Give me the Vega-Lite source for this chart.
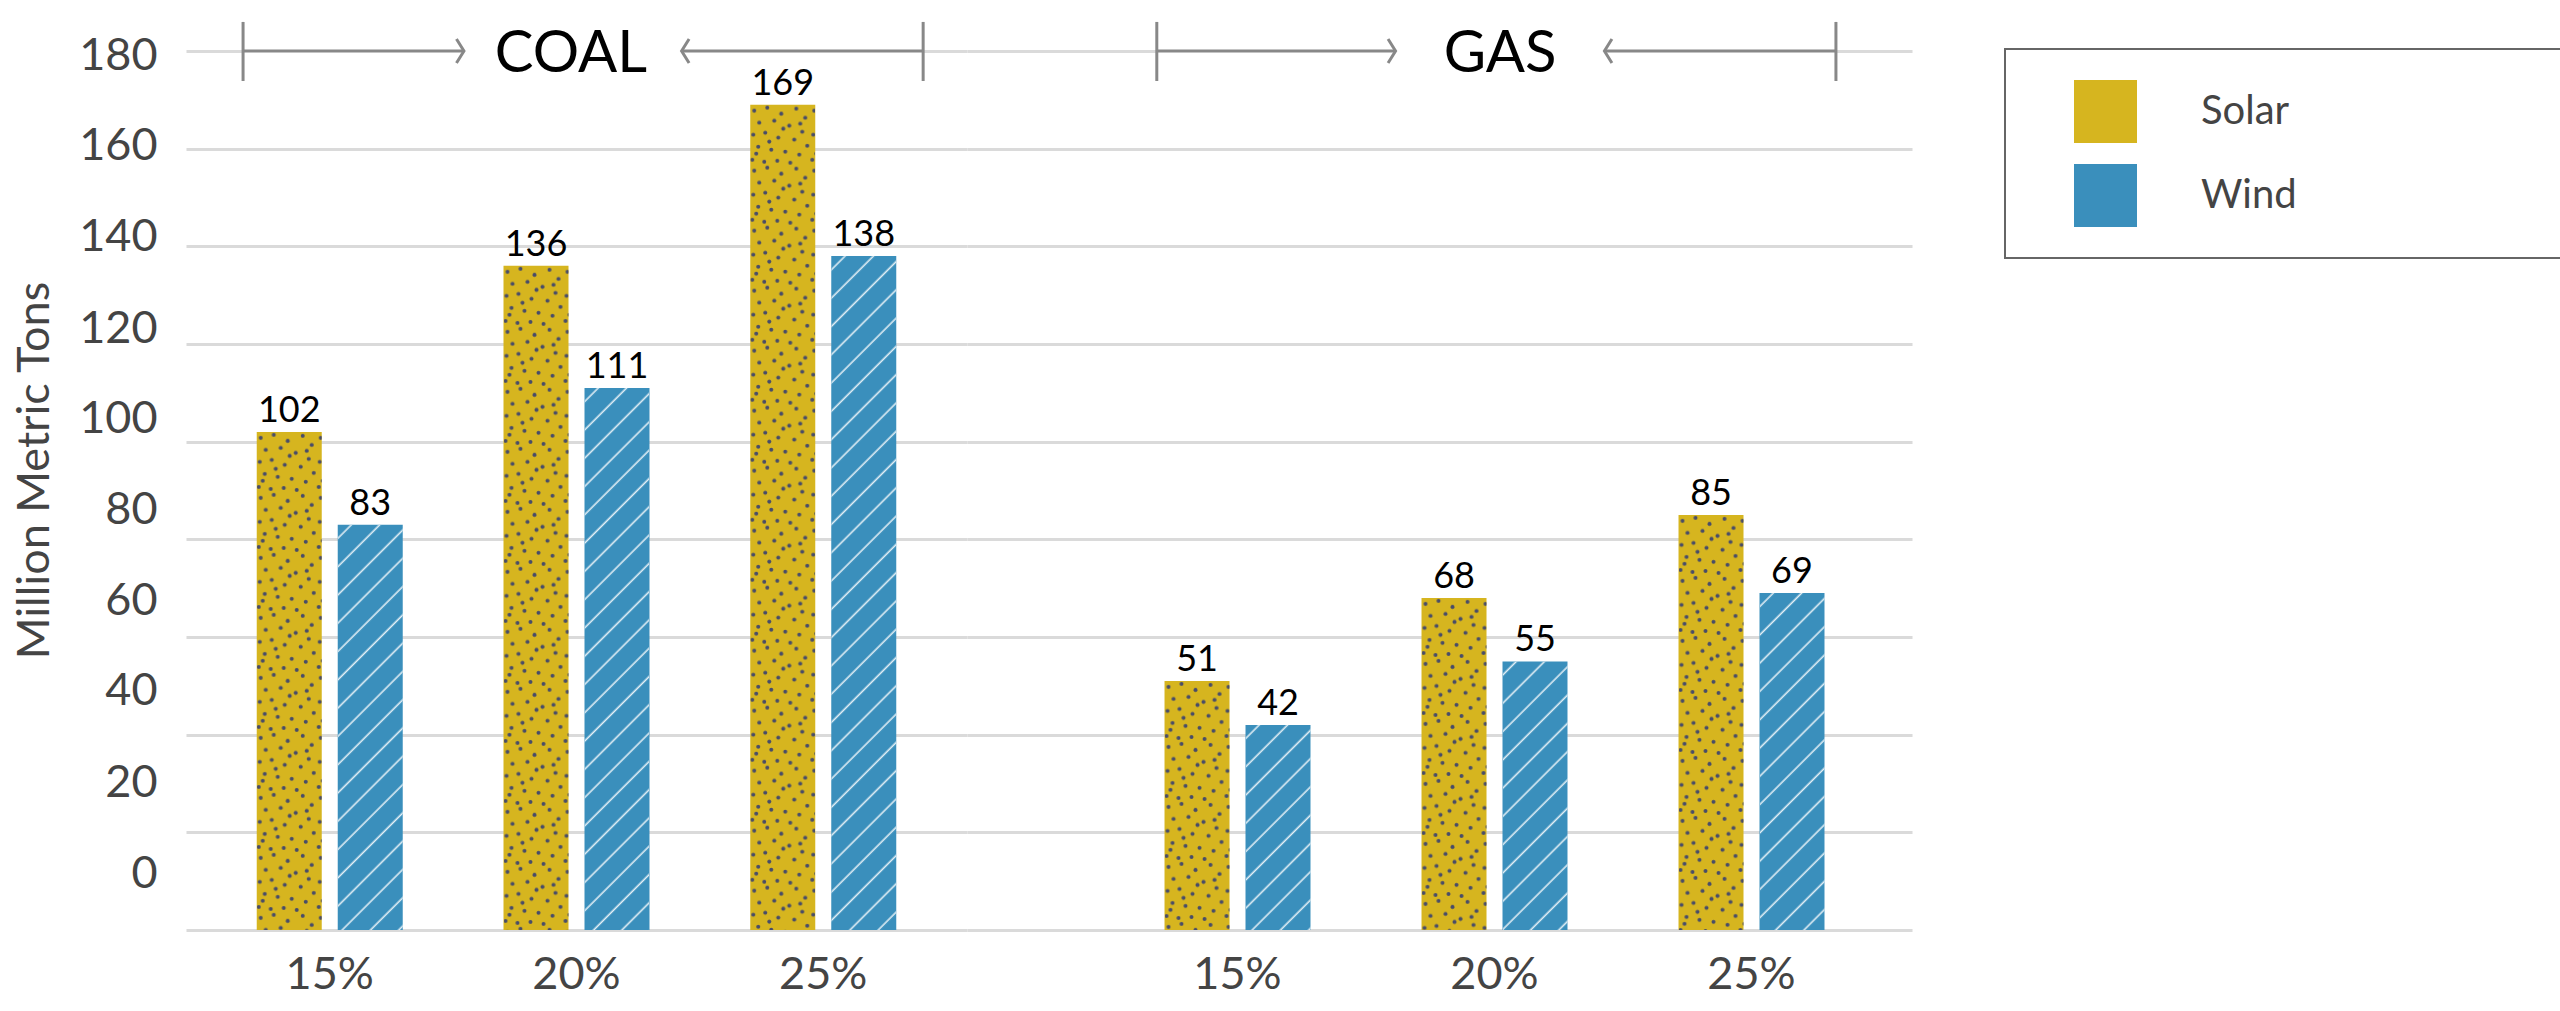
{
  "$schema": "https://vega.github.io/schema/vega-lite/v6.json",
  "background": "white",
  "padding": {"left": 12, "top": 20, "right": 0, "bottom": 0},
  "data": {
    "values": [
      {"fuel": "COAL", "pct": "15%", "source": "Solar", "value": 102},
      {"fuel": "COAL", "pct": "15%", "source": "Wind", "value": 83},
      {"fuel": "COAL", "pct": "20%", "source": "Solar", "value": 136},
      {"fuel": "COAL", "pct": "20%", "source": "Wind", "value": 111},
      {"fuel": "COAL", "pct": "25%", "source": "Solar", "value": 169},
      {"fuel": "COAL", "pct": "25%", "source": "Wind", "value": 138},
      {"fuel": "GAS", "pct": "15%", "source": "Solar", "value": 51},
      {"fuel": "GAS", "pct": "15%", "source": "Wind", "value": 42},
      {"fuel": "GAS", "pct": "20%", "source": "Solar", "value": 68},
      {"fuel": "GAS", "pct": "20%", "source": "Wind", "value": 55},
      {"fuel": "GAS", "pct": "25%", "source": "Solar", "value": 85},
      {"fuel": "GAS", "pct": "25%", "source": "Wind", "value": 69}
    ]
  },
  "spacing": 0,
  "bounds": "flush",
  "resolve": {"scale": {"x": "independent", "xOffset": "independent", "y": "shared", "color": "shared"}},
  "hconcat": [
    {
      "width": 781,
      "height": 879,
      "layer": [
        {
          "transform": [{"filter": "datum.fuel == 'COAL'"}],
          "mark": {"type": "bar"},
          "encoding": {
            "x": {"field": "pct", "type": "nominal", "title": null,
              "scale": {"domain": ["15%", "20%", "25%"], "paddingInner": 0.2462, "paddingOuter": 0.2056, "align": 0.5, "round": false},
              "axis": {"labelAngle": 0, "domain": false, "ticks": false, "labelPadding": 22}},
            "xOffset": {"field": "source", "type": "nominal",
              "scale": {"domain": ["Solar", "Wind"], "paddingInner": 0.1975, "paddingOuter": 0.247, "round": false}},
            "y": {"field": "value", "type": "quantitative", "title": "Million Metric Tons",
              "scale": {"domain": [0, 180], "nice": false},
              "axis": {
                "values": [0, 20, 40, 60, 80, 100, 120, 140, 160, 180],
                "domain": false, "ticks": false, "labelPadding": 29,
                "titleAngle": -90, "titleAlign": "center", "titleBaseline": "alphabetic",
                "titleX": -138, "titleY": 419, "titleFontSize": 45, "titleFontWeight": "normal", "titleColor": "#444",
                "labelOffset": {
                  "condition": [
                    {"test": "datum.value == 180", "value": 4},
                    {"test": "datum.value == 160", "value": -3},
                    {"test": "datum.value == 140", "value": -10},
                    {"test": "datum.value == 120", "value": -16},
                    {"test": "datum.value == 100", "value": -23},
                    {"test": "datum.value == 80", "value": -30},
                    {"test": "datum.value == 60", "value": -37},
                    {"test": "datum.value == 40", "value": -44},
                    {"test": "datum.value == 20", "value": -50}
                  ],
                  "value": -57
                }
              }},
            "color": {"field": "source", "type": "nominal", "title": null,
              "scale": {"domain": ["Solar", "Wind"], "range": ["#D6B51F", "#3A8FBC"]},
              "legend": {"labelLimit": 600, "labelExpr": "datum.label + '\u00a0\u00a0\u00a0\u00a0\u00a0\u00a0\u00a0\u00a0\u00a0\u00a0\u00a0\u00a0\u00a0\u00a0\u00a0\u00a0\u00a0\u00a0\u00a0\u00a0\u00a0\u00a0\u00a0\u200b'"}}
          }
        },
        {
          "transform": [{"filter": "datum.fuel == 'COAL' && datum.source == 'Solar'"}],
          "mark": {"type": "image", "aspect": false, "url": "data:image/svg+xml;utf8,<svg xmlns='http://www.w3.org/2000/svg'><defs><pattern id='d' width='60' height='60' patternUnits='userSpaceOnUse'><g fill='rgb(72,76,104)'><circle cx='4' cy='6' r='2'/><circle cx='17' cy='3' r='2'/><circle cx='31' cy='9' r='2'/><circle cx='46' cy='4' r='2'/><circle cx='55' cy='13' r='2'/><circle cx='9' cy='18' r='2'/><circle cx='24' cy='16' r='2'/><circle cx='39' cy='21' r='2'/><circle cx='52' cy='27' r='2'/><circle cx='3' cy='30' r='2'/><circle cx='15' cy='28' r='2'/><circle cx='28' cy='33' r='2'/><circle cx='44' cy='35' r='2'/><circle cx='57' cy='41' r='2'/><circle cx='8' cy='42' r='2'/><circle cx='21' cy='45' r='2'/><circle cx='35' cy='47' r='2'/><circle cx='49' cy='50' r='2'/><circle cx='2' cy='55' r='2'/><circle cx='14' cy='57' r='2'/><circle cx='27' cy='56' r='2'/><circle cx='40' cy='58' r='2'/><circle cx='33' cy='24' r='2'/><circle cx='19' cy='37' r='2'/><circle cx='50' cy='19' r='2'/><circle cx='6' cy='49' r='2'/></g></pattern></defs><rect width='4000' height='4000' fill='url(%23d)'/></svg>"},
          "encoding": {
            "x": {"field": "pct", "type": "nominal"},
            "xOffset": {"field": "source", "type": "nominal"},
            "y": {"field": "value", "type": "quantitative"}
          }
        },
        {
          "transform": [{"filter": "datum.fuel == 'COAL' && datum.source == 'Wind'"}],
          "mark": {"type": "image", "aspect": false, "url": "data:image/svg+xml;utf8,<svg xmlns='http://www.w3.org/2000/svg'><defs><pattern id='h' width='20' height='20' patternUnits='userSpaceOnUse' patternTransform='rotate(45)'><rect x='9' width='1.6' height='20' fill='white' fill-opacity='0.85'/></pattern></defs><rect width='4000' height='4000' fill='url(%23h)'/></svg>"},
          "encoding": {
            "x": {"field": "pct", "type": "nominal"},
            "xOffset": {"field": "source", "type": "nominal"},
            "y": {"field": "value", "type": "quantitative"}
          }
        },
        {
          "transform": [{"filter": "datum.fuel == 'COAL'"}],
          "mark": {"type": "text", "baseline": "alphabetic", "dy": -10, "fontSize": 36, "color": "black"},
          "encoding": {
            "x": {"field": "pct", "type": "nominal"},
            "xOffset": {"field": "source", "type": "nominal"},
            "y": {"field": "value", "type": "quantitative"},
            "text": {"field": "value", "type": "quantitative"}
          }
        },
        {
          "data": {"values": [{}]},
          "mark": {"type": "rule", "color": "white", "strokeWidth": 7},
          "encoding": {
            "x": {"datum": "15%", "bandPosition": 0.034},
            "x2": {"datum": "25%", "bandPosition": 1.037},
            "y": {"datum": 180}
          }
        },
        {
          "data": {"values": [{}]},
          "mark": {"type": "rule", "color": "#888", "strokeWidth": 3},
          "encoding": {
            "x": {"datum": "15%", "bandPosition": 0.034},
            "x2": {"datum": "20%", "bandPosition": -0.105},
            "y": {"datum": 180}
          }
        },
        {
          "data": {"values": [{}]},
          "mark": {"type": "rule", "color": "#888", "strokeWidth": 3},
          "encoding": {
            "x": {"datum": "20%", "bandPosition": 1.065},
            "x2": {"datum": "25%", "bandPosition": 1.037},
            "y": {"datum": 180}
          }
        },
        {
          "data": {"values": [{}]},
          "mark": {"type": "rule", "color": "#888", "strokeWidth": 3},
          "encoding": {
            "x": {"datum": "15%", "bandPosition": 0.034},
            "y": {"datum": 185.95},
            "y2": {"datum": 173.86}
          }
        },
        {
          "data": {"values": [{}]},
          "mark": {"type": "rule", "color": "#888", "strokeWidth": 3},
          "encoding": {
            "x": {"datum": "25%", "bandPosition": 1.037},
            "y": {"datum": 185.95},
            "y2": {"datum": 173.86}
          }
        },
        {
          "data": {"values": [{}]},
          "mark": {"type": "point", "shape": "M-0.625,-1L0,0L-0.625,1", "size": 576, "filled": false, "stroke": "#888", "strokeWidth": 3, "opacity": 1},
          "encoding": {
            "x": {"datum": "20%", "bandPosition": -0.105},
            "y": {"datum": 180}
          }
        },
        {
          "data": {"values": [{}]},
          "mark": {"type": "point", "shape": "M0.625,-1L0,0L0.625,1", "size": 576, "filled": false, "stroke": "#888", "strokeWidth": 3, "opacity": 1},
          "encoding": {
            "x": {"datum": "20%", "bandPosition": 1.065},
            "y": {"datum": 180}
          }
        },
        {
          "data": {"values": [{}]},
          "mark": {"type": "text", "text": "COAL", "fontSize": 58, "color": "black", "baseline": "middle", "dy": 4},
          "encoding": {
            "x": {"datum": "20%", "bandPosition": 0.47},
            "y": {"datum": 180}
          }
        }
      ]
    },
    {
      "width": 945,
      "height": 879,
      "layer": [
        {
          "transform": [{"filter": "datum.fuel == 'GAS'"}],
          "mark": {"type": "bar"},
          "encoding": {
            "x": {"field": "pct", "type": "nominal", "title": null,
              "scale": {"domain": ["15%", "20%", "25%"], "paddingInner": 0.2763, "paddingOuter": 0.4767, "align": 0.7245, "round": false},
              "axis": {"labelAngle": 0, "domain": false, "ticks": false, "labelPadding": 22}},
            "xOffset": {"field": "source", "type": "nominal",
              "scale": {"domain": ["Solar", "Wind"], "paddingInner": 0.1975, "paddingOuter": 0.247, "round": false}},
            "y": {"field": "value", "type": "quantitative", "title": null,
              "scale": {"domain": [0, 180], "nice": false},
              "axis": {"values": [0, 20, 40, 60, 80, 100, 120, 140, 160, 180], "labels": false, "domain": false, "ticks": false, "title": null}},
            "color": {"field": "source", "type": "nominal", "title": null,
              "scale": {"domain": ["Solar", "Wind"], "range": ["#D6B51F", "#3A8FBC"]},
              "legend": {"labelLimit": 600, "labelExpr": "datum.label + '\u00a0\u00a0\u00a0\u00a0\u00a0\u00a0\u00a0\u00a0\u00a0\u00a0\u00a0\u00a0\u00a0\u00a0\u00a0\u00a0\u00a0\u00a0\u00a0\u00a0\u00a0\u00a0\u00a0\u200b'"}}
          }
        },
        {
          "transform": [{"filter": "datum.fuel == 'GAS' && datum.source == 'Solar'"}],
          "mark": {"type": "image", "aspect": false, "url": "data:image/svg+xml;utf8,<svg xmlns='http://www.w3.org/2000/svg'><defs><pattern id='d' width='60' height='60' patternUnits='userSpaceOnUse'><g fill='rgb(72,76,104)'><circle cx='4' cy='6' r='2'/><circle cx='17' cy='3' r='2'/><circle cx='31' cy='9' r='2'/><circle cx='46' cy='4' r='2'/><circle cx='55' cy='13' r='2'/><circle cx='9' cy='18' r='2'/><circle cx='24' cy='16' r='2'/><circle cx='39' cy='21' r='2'/><circle cx='52' cy='27' r='2'/><circle cx='3' cy='30' r='2'/><circle cx='15' cy='28' r='2'/><circle cx='28' cy='33' r='2'/><circle cx='44' cy='35' r='2'/><circle cx='57' cy='41' r='2'/><circle cx='8' cy='42' r='2'/><circle cx='21' cy='45' r='2'/><circle cx='35' cy='47' r='2'/><circle cx='49' cy='50' r='2'/><circle cx='2' cy='55' r='2'/><circle cx='14' cy='57' r='2'/><circle cx='27' cy='56' r='2'/><circle cx='40' cy='58' r='2'/><circle cx='33' cy='24' r='2'/><circle cx='19' cy='37' r='2'/><circle cx='50' cy='19' r='2'/><circle cx='6' cy='49' r='2'/></g></pattern></defs><rect width='4000' height='4000' fill='url(%23d)'/></svg>"},
          "encoding": {
            "x": {"field": "pct", "type": "nominal"},
            "xOffset": {"field": "source", "type": "nominal"},
            "y": {"field": "value", "type": "quantitative"}
          }
        },
        {
          "transform": [{"filter": "datum.fuel == 'GAS' && datum.source == 'Wind'"}],
          "mark": {"type": "image", "aspect": false, "url": "data:image/svg+xml;utf8,<svg xmlns='http://www.w3.org/2000/svg'><defs><pattern id='h' width='20' height='20' patternUnits='userSpaceOnUse' patternTransform='rotate(45)'><rect x='9' width='1.6' height='20' fill='white' fill-opacity='0.85'/></pattern></defs><rect width='4000' height='4000' fill='url(%23h)'/></svg>"},
          "encoding": {
            "x": {"field": "pct", "type": "nominal"},
            "xOffset": {"field": "source", "type": "nominal"},
            "y": {"field": "value", "type": "quantitative"}
          }
        },
        {
          "transform": [{"filter": "datum.fuel == 'GAS'"}],
          "mark": {"type": "text", "baseline": "alphabetic", "dy": -10, "fontSize": 36, "color": "black"},
          "encoding": {
            "x": {"field": "pct", "type": "nominal"},
            "xOffset": {"field": "source", "type": "nominal"},
            "y": {"field": "value", "type": "quantitative"},
            "text": {"field": "value", "type": "quantitative"}
          }
        },
        {
          "data": {"values": [{}]},
          "mark": {"type": "rule", "color": "white", "strokeWidth": 7},
          "encoding": {
            "x": {"datum": "15%", "bandPosition": 0.066},
            "x2": {"datum": "25%", "bandPosition": 0.954},
            "y": {"datum": 180}
          }
        },
        {
          "data": {"values": [{}]},
          "mark": {"type": "rule", "color": "#888", "strokeWidth": 3},
          "encoding": {
            "x": {"datum": "15%", "bandPosition": 0.066},
            "x2": {"datum": "20%", "bandPosition": -0.032},
            "y": {"datum": 180}
          }
        },
        {
          "data": {"values": [{}]},
          "mark": {"type": "rule", "color": "#888", "strokeWidth": 3},
          "encoding": {
            "x": {"datum": "20%", "bandPosition": 1.091},
            "x2": {"datum": "25%", "bandPosition": 0.954},
            "y": {"datum": 180}
          }
        },
        {
          "data": {"values": [{}]},
          "mark": {"type": "rule", "color": "#888", "strokeWidth": 3},
          "encoding": {
            "x": {"datum": "15%", "bandPosition": 0.066},
            "y": {"datum": 185.95},
            "y2": {"datum": 173.86}
          }
        },
        {
          "data": {"values": [{}]},
          "mark": {"type": "rule", "color": "#888", "strokeWidth": 3},
          "encoding": {
            "x": {"datum": "25%", "bandPosition": 0.954},
            "y": {"datum": 185.95},
            "y2": {"datum": 173.86}
          }
        },
        {
          "data": {"values": [{}]},
          "mark": {"type": "point", "shape": "M-0.625,-1L0,0L-0.625,1", "size": 576, "filled": false, "stroke": "#888", "strokeWidth": 3, "opacity": 1},
          "encoding": {
            "x": {"datum": "20%", "bandPosition": -0.032},
            "y": {"datum": 180}
          }
        },
        {
          "data": {"values": [{}]},
          "mark": {"type": "point", "shape": "M0.625,-1L0,0L0.625,1", "size": 576, "filled": false, "stroke": "#888", "strokeWidth": 3, "opacity": 1},
          "encoding": {
            "x": {"datum": "20%", "bandPosition": 1.091},
            "y": {"datum": 180}
          }
        },
        {
          "data": {"values": [{}]},
          "mark": {"type": "text", "text": "GAS", "fontSize": 58, "color": "black", "baseline": "middle", "dy": 4},
          "encoding": {
            "x": {"datum": "20%", "bandPosition": 0.53},
            "y": {"datum": 180}
          }
        }
      ]
    }
  ],
  "config": {
    "font": "Lato",
    "view": {"stroke": null},
    "axis": {
      "labelFont": "Lato",
      "labelFontSize": 45,
      "labelColor": "#444",
      "titleFont": "Lato",
      "gridColor": "#dadada",
      "gridWidth": 3,
      "gridOpacity": 1
    },
    "legend": {
      "orient": "none",
      "legendX": 1819,
      "legendY": -2,
      "padding": 31,
      "symbolOffset": 38,
      "labelOffset": 64,
      "rowPadding": 21,
      "symbolType": "square",
      "symbolSize": 3969,
      "symbolStrokeWidth": 0,
      "symbolOpacity": 1,
      "labelFont": "Lato",
      "labelFontSize": 40,
      "labelColor": "#444",
      "strokeColor": "#666",
      "strokeWidth": 2
    }
  }
}
